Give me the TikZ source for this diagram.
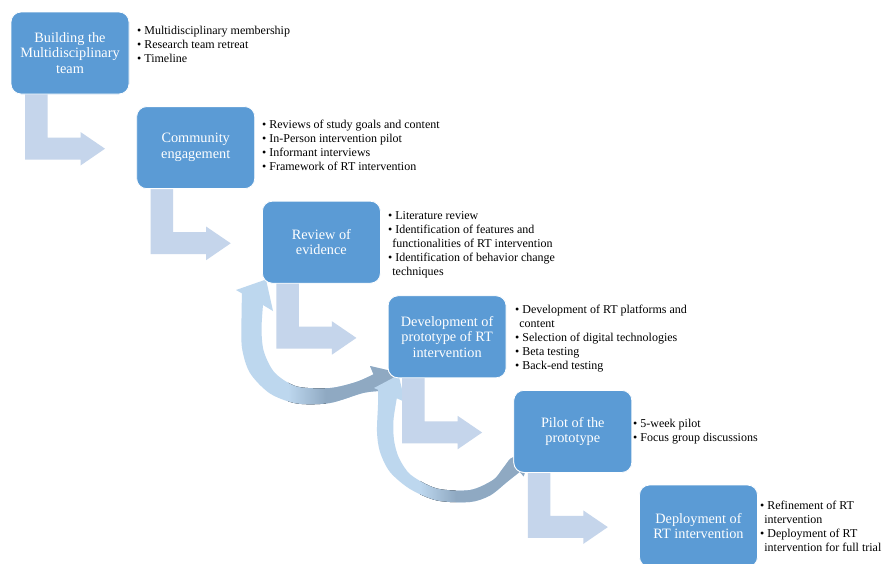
\documentclass[tikz,border=0pt]{standalone}
\usepackage{fontspec}
\setmainfont{Liberation Serif}
\usetikzlibrary{calc}
\definecolor{boxblue}{RGB}{91,155,213}
\definecolor{bentblue}{RGB}{197,213,235}
\definecolor{arclight}{RGB}{189,215,238}
\definecolor{arcdark}{RGB}{143,169,194}
\newcommand\mybent[1]{\fill[bent] ($(#1.south west)+(14,-2)$) -- ++(22.5,0) -- ++(0,45.5) -- ++(33,0) -- ++(0,-5.5) -- ++(24.5,16.7) -- ++(-24.5,16.8) -- ++(0,-6) -- ++(-55.5,0) -- cycle;}
\newcommand\cnt[1]{& \hspace{-3pt}#1}
\def\arcApath{(266,279.5) -- (273,311) -- plot[smooth] coordinates {(263,305) (261.5,330) (264,352) (275,373) (297,386.5) (330,388) (356,382) (373.5,374.3)} -- (370,366) -- (400,373) -- (386,404) -- plot[smooth] coordinates {(380.5,391) (363,393) (330,403) (297,403.5) (270,393.5) (250,373) (242,348) (241.5,318) (242,293.4)} -- (236,290) -- cycle}
\def\arcBpath{(398.6,375) -- (405,402) -- plot[smooth] coordinates {(396.8,398.3) (393.5,420) (394,440) (399,458) (411,475) (437,488.5) (470,490) (493,480) (502,469.5) (509,460)} -- (510.5,458.5) -- (532,448) -- (523.7,476.4) -- plot[smooth] coordinates {(519.7,471.9) (507,482) (490,495.5) (470,502) (437,500.5) (410,489) (390,472) (380,452) (377,432) (378,405) (378,389.8)} -- (374,388) -- cycle}
\begin{document}
\begin{tikzpicture}[x=1pt,y=-1pt,
  box/.style={fill=boxblue, draw=white, line width=0.8pt, rounded corners=10pt,
    minimum width=118pt, minimum height=82pt, align=center, text=white,
    font=\fontsize{14.3}{15.6}\selectfont, inner sep=2pt, outer sep=0pt},
  blist/.style={anchor=west, inner sep=0pt, align=left, font=\fontsize{12}{14}\selectfont},
  bent/.style={fill=bentblue}]
\useasboundingbox (0,0) rectangle (889,563);
\clip (0,0) rectangle (889,563);
\fill[white] (0,0) rectangle (889,563);

% circular arrows (light to dark)
\expandafter\fill\expandafter[arclight]\arcApath;
\begin{scope}
  \expandafter\clip\arcApath;
  \fill[left color=arclight, right color=arcdark] (288,250) rectangle (326,420);
  \fill[arcdark] (325.5,250) rectangle (420,420);
\end{scope}
\expandafter\fill\expandafter[arclight]\arcBpath;
\begin{scope}
  \expandafter\clip\arcBpath;
  \fill[left color=arclight, right color=arcdark] (420,360) rectangle (456,520);
  \fill[arcdark] (455.5,360) rectangle (560,520);
\end{scope}

% boxes (placed first so that the bent arrows can be anchored to them)
\path (70,53) node[box] (b1) {Building the\\Multidisciplinary\\team};
\path (195.7,147.6) node[box] (b2) {Community\\engagement};
\path (321.4,242.2) node[box] (b3) {Review of\\evidence};
\path (447.1,336.8) node[box] (b4) {Development of\\prototype of RT\\intervention};
\path (572.8,431.4) node[box] (b5) {Pilot of the\\prototype};
\path (698.5,526) node[box] (b6) {Deployment of\\RT intervention};

% bent arrows
\mybent{b1}
\mybent{b2}
\mybent{b3}
\mybent{b4}
\mybent{b5}

% boxes again on top of the arrows
\path (70,53) node[box] {Building the\\Multidisciplinary\\team};
\path (195.7,147.6) node[box] {Community\\engagement};
\path (321.4,242.2) node[box] {Review of\\evidence};
\path (447.1,336.8) node[box] {Development of\\prototype of RT\\intervention};
\path (572.8,431.4) node[box] {Pilot of the\\prototype};
\path (698.5,526) node[box] {Deployment of\\RT intervention};

% bullet lists
\node[blist] (l1) at (137,45.5) {\begin{tabular}{@{}l@{\hspace{3pt}}l@{}}
\textbullet & Multidisciplinary membership\\
\textbullet & Research team retreat\\
\textbullet & Timeline\end{tabular}};
\node[blist] (l2) at (262,146.5) {\begin{tabular}{@{}l@{\hspace{3pt}}l@{}}
\textbullet & Reviews of study goals and content\\
\textbullet & In-Person intervention pilot\\
\textbullet & Informant interviews\\
\textbullet & Framework of RT intervention\end{tabular}};
\node[blist] (l3) at (388,244.5) {\begin{tabular}{@{}l@{\hspace{3pt}}l@{}}
\textbullet & Literature review\\
\textbullet & Identification of features and\\
\cnt{functionalities of RT intervention}\\
\textbullet & Identification of behavior change\\
\cnt{techniques}\end{tabular}};
\node[blist] (l4) at (515,338.5) {\begin{tabular}{@{}l@{\hspace{3pt}}l@{}}
\textbullet & Development of RT platforms and\\
\cnt{content}\\
\textbullet & Selection of digital technologies\\
\textbullet & Beta testing\\
\textbullet & Back-end testing\end{tabular}};
\node[blist] (l5) at (633,432) {\begin{tabular}{@{}l@{\hspace{3pt}}l@{}}
\textbullet & 5-week pilot\\
\textbullet & Focus group discussions\end{tabular}};
\node[blist] (l6) at (760,528) {\begin{tabular}{@{}l@{\hspace{3pt}}l@{}}
\textbullet & Refinement of RT\\
\cnt{intervention}\\
\textbullet & Deployment of RT\\
\cnt{intervention for full trial}\end{tabular}};
\end{tikzpicture}
\end{document}
